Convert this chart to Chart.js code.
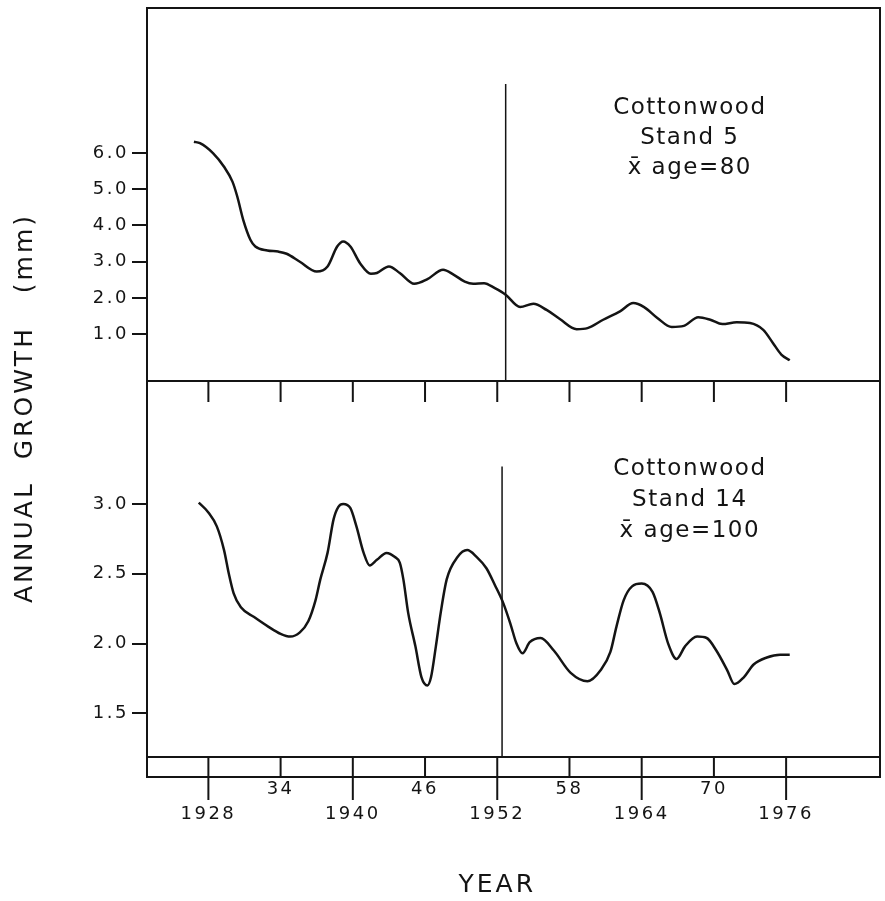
<!DOCTYPE html>
<html>
<head>
<meta charset="utf-8">
<script src="https://cdn.jsdelivr.net/npm/chart.js@4.4.1/dist/chart.umd.min.js"></script>
<style>
  body { margin: 0; background: #fff; }
</style>
</head>
<body>
<canvas id="graphique-croissance" width="885" height="901"></canvas>
<script>
// Stand 5 (top panel) - annual growth in mm
const yearsStand5 = [1926.8, 1927.3, 1928.4, 1929.3, 1930.0, 1930.4, 1930.9, 1931.5, 1931.9, 1932.9,
  1933.8, 1934.5, 1935.6, 1937.0, 1937.9, 1938.7, 1939.2, 1939.8, 1940.6, 1941.5,
  1942.0, 1943.0, 1943.9, 1945.1, 1946.2, 1947.5, 1948.4, 1949.3, 1950.0, 1950.9,
  1951.8, 1952.7, 1953.9, 1955.0, 1956.1, 1957.2, 1958.6, 1959.5, 1960.8, 1962.2,
  1963.3, 1964.2, 1965.3, 1966.5, 1967.5, 1968.7, 1969.7, 1970.7, 1971.9, 1973.0,
  1974.1, 1974.9, 1975.6, 1976.3];
const growthStand5 = [6.31, 6.27, 5.99, 5.62, 5.21, 4.80, 4.15, 3.60, 3.42, 3.31,
  3.28, 3.22, 3.00, 2.73, 2.87, 3.42, 3.56, 3.42, 2.96, 2.67,
  2.69, 2.87, 2.69, 2.39, 2.52, 2.78, 2.64, 2.45, 2.39, 2.41,
  2.27, 2.09, 1.75, 1.84, 1.67, 1.42, 1.14, 1.17, 1.40, 1.63,
  1.86, 1.75, 1.45, 1.20, 1.23, 1.47, 1.40, 1.28, 1.33, 1.31,
  1.12, 0.76, 0.44, 0.28];

// Stand 14 (bottom panel)
const yearsStand14 = [1927.2, 1928.0, 1928.7, 1929.3, 1929.7, 1930.1, 1930.7, 1931.8, 1933.0, 1934.0,
  1934.8, 1935.6, 1936.3, 1936.9, 1937.3, 1937.9, 1938.4, 1938.8, 1939.2, 1939.8,
  1940.3, 1940.9, 1941.4, 1942.0, 1942.8, 1943.5, 1943.9, 1944.2, 1944.6, 1945.2,
  1945.7, 1946.2, 1946.5, 1946.9, 1947.3, 1947.8, 1948.7, 1949.5, 1950.3, 1951.1,
  1951.8, 1952.5, 1953.1, 1953.6, 1954.1, 1954.7, 1955.6, 1956.7, 1958.1, 1959.5,
  1960.6, 1961.4, 1961.9, 1962.5, 1963.2, 1964.0, 1964.9, 1965.5, 1966.2, 1966.9,
  1967.6, 1968.6, 1969.4, 1970.2, 1971.1, 1971.7, 1972.5, 1973.3, 1974.4, 1975.5,
  1976.3];
const growthStand14 = [3.01, 2.94, 2.84, 2.67, 2.50, 2.36, 2.26, 2.19, 2.12, 2.07,
  2.05, 2.08, 2.16, 2.31, 2.46, 2.65, 2.89, 2.98, 3.00, 2.97,
  2.84, 2.65, 2.56, 2.60, 2.65, 2.62, 2.58, 2.46, 2.22, 1.98,
  1.76, 1.70, 1.76, 1.98, 2.22, 2.46, 2.62, 2.67, 2.62, 2.54,
  2.42, 2.29, 2.14, 2.00, 1.93, 2.01, 2.04, 1.95, 1.79, 1.73,
  1.81, 1.94, 2.12, 2.31, 2.41, 2.43, 2.37, 2.22, 2.00, 1.89,
  1.98, 2.05, 2.04, 1.95, 1.81, 1.71, 1.76, 1.85, 1.90, 1.92,
  1.92];

// vertical reference lines (year, growth from, growth to)
const refLineStand5 = [1952.7, 7.9, -0.3];
const refLineStand14 = [1952.4, 3.27, 1.18];

// axes
const tickYears = [1928, 1934, 1940, 1946, 1952, 1958, 1964, 1970, 1976];
const tickYearLabels = ["1928", "34", "1940", "46", "1952", "58", "1964", "70", "1976"];
const ticksStand5 = [1, 2, 3, 4, 5, 6];
const ticksStand14 = [1.5, 2, 2.5, 3];

const labelsStand5 = ["Cottonwood", "Stand 5", "x\u0304 age=80"];
const labelsStand14 = ["Cottonwood", "Stand 14", "x\u0304 age=100"];

const INK = "#141414";
const FONT = "'DejaVu Sans'";

function toPoints(xs, ys) {
  return xs.map((x, i) => ({ x: x, y: ys[i] }));
}

// no extra padding from tick labels, the frame must stay where it is
function fixPadding(scale) {
  scale.paddingTop = 0;
  scale.paddingBottom = 0;
  scale.paddingLeft = 0;
  scale.paddingRight = 0;
}

// frame, tick strips and texts drawn on top of the chart
const cadre = {
  id: "cadre",
  beforeDraw(chart) {
    chart.ctx.letterSpacing = "2.5px";
  },
  afterDraw(chart) {
    const { ctx, chartArea: a, scales } = chart;
    const x = scales.x;
    const ySep = scales.yTop.bottom;
    const line = (x1, y1, x2, y2) => {
      ctx.beginPath(); ctx.moveTo(x1, y1); ctx.lineTo(x2, y2); ctx.stroke();
    };
    ctx.save();
    ctx.strokeStyle = INK;
    ctx.lineWidth = 2;
    ctx.strokeRect(a.left, a.top, a.right - a.left, a.bottom - a.top);
    line(a.left, ySep, a.right, ySep);
    ctx.strokeRect(a.left, a.bottom, a.right - a.left, 20);
    tickYears.forEach((yr, i) => {
      const px = x.getPixelForValue(yr);
      line(px, ySep, px, ySep + 21);
      const major = tickYearLabels[i].length === 4;
      line(px, a.bottom, px, a.bottom + (major ? 43 : 20));
    });

    ctx.fillStyle = INK;
    ctx.textAlign = "center";
    ctx.textBaseline = "middle";
    ctx.letterSpacing = "1.5px";
    ctx.font = "23px " + FONT;
    const xNote = x.getPixelForValue(1968);
    labelsStand5.forEach((t, i) => ctx.fillText(t, xNote, scales.yTop.top + 100 + i * 30));
    labelsStand14.forEach((t, i) => ctx.fillText(t, xNote, scales.yBot.top + 88 + i * 31));

    // axis titles
    ctx.letterSpacing = "3px";
    ctx.font = "25px " + FONT;
    ctx.fillText("YEAR", x.getPixelForValue(1952), 885);
    ctx.translate(25, 408);
    ctx.rotate(-Math.PI / 2);
    ctx.fillText("ANNUAL  GROWTH   (mm)", 0, 0);
    ctx.restore();
  }
};

const yCommon = {
  type: "linear",
  position: "left",
  stack: "growth",
  afterFit: (scale) => { scale.width = 147; fixPadding(scale); },
  border: { display: true, color: INK, width: 2 },
  grid: { drawOnChartArea: false, drawTicks: true, tickLength: 15, color: INK, lineWidth: 2 },
  ticks: {
    color: INK,
    padding: 3,
    font: { family: FONT, size: 18 },
    callback: (v) => Number(v).toFixed(1)
  }
};

const config = {
  type: "line",
  data: {
    datasets: [
      {
        data: toPoints(yearsStand14, growthStand14),
        yAxisID: "yBot",
        borderColor: INK, borderWidth: 2.5, pointRadius: 0,
        cubicInterpolationMode: "monotone"
      },
      {
        data: [{ x: refLineStand14[0], y: refLineStand14[1] }, { x: refLineStand14[0], y: refLineStand14[2] }],
        yAxisID: "yBot",
        borderColor: INK, borderWidth: 1.5, pointRadius: 0
      },
      {
        data: toPoints(yearsStand5, growthStand5),
        yAxisID: "yTop",
        borderColor: INK, borderWidth: 2.5, pointRadius: 0,
        cubicInterpolationMode: "monotone"
      },
      {
        data: [{ x: refLineStand5[0], y: refLineStand5[1] }, { x: refLineStand5[0], y: refLineStand5[2] }],
        yAxisID: "yTop",
        borderColor: INK, borderWidth: 1.5, pointRadius: 0
      }
    ]
  },
  options: {
    responsive: false,
    animation: false,
    devicePixelRatio: 1,
    layout: { padding: { top: 8, right: 5, bottom: 0, left: 0 } },
    plugins: { legend: { display: false }, tooltip: { enabled: false } },
    scales: {
      x: {
        type: "linear",
        min: 1922.9,
        max: 1983.8,
        afterFit: (scale) => { scale.height = 144; fixPadding(scale); },
        afterBuildTicks: (scale) => { scale.ticks = tickYears.map(v => ({ value: v })); },
        border: { display: false },
        grid: { display: false, drawTicks: false },
        ticks: {
          autoSkip: false,
          maxRotation: 0,
          padding: 20,
          color: INK,
          font: { family: FONT, size: 18, lineHeight: "25px" },
          callback: (v, i) => tickYearLabels[i].length === 4 ? ["", tickYearLabels[i]] : [tickYearLabels[i]]
        }
      },
      yBot: Object.assign({}, yCommon, {
        min: 1.187, max: 3.882, stackWeight: 376,
        afterBuildTicks: (scale) => { scale.ticks = ticksStand14.map(v => ({ value: v })); }
      }),
      yTop: Object.assign({}, yCommon, {
        min: -0.29, max: 10.0, stackWeight: 373,
        afterBuildTicks: (scale) => { scale.ticks = ticksStand5.map(v => ({ value: v })); }
      })
    }
  },
  plugins: [cadre]
};

new Chart(document.querySelector("#graphique-croissance"), config);
</script>
</body>
</html>
